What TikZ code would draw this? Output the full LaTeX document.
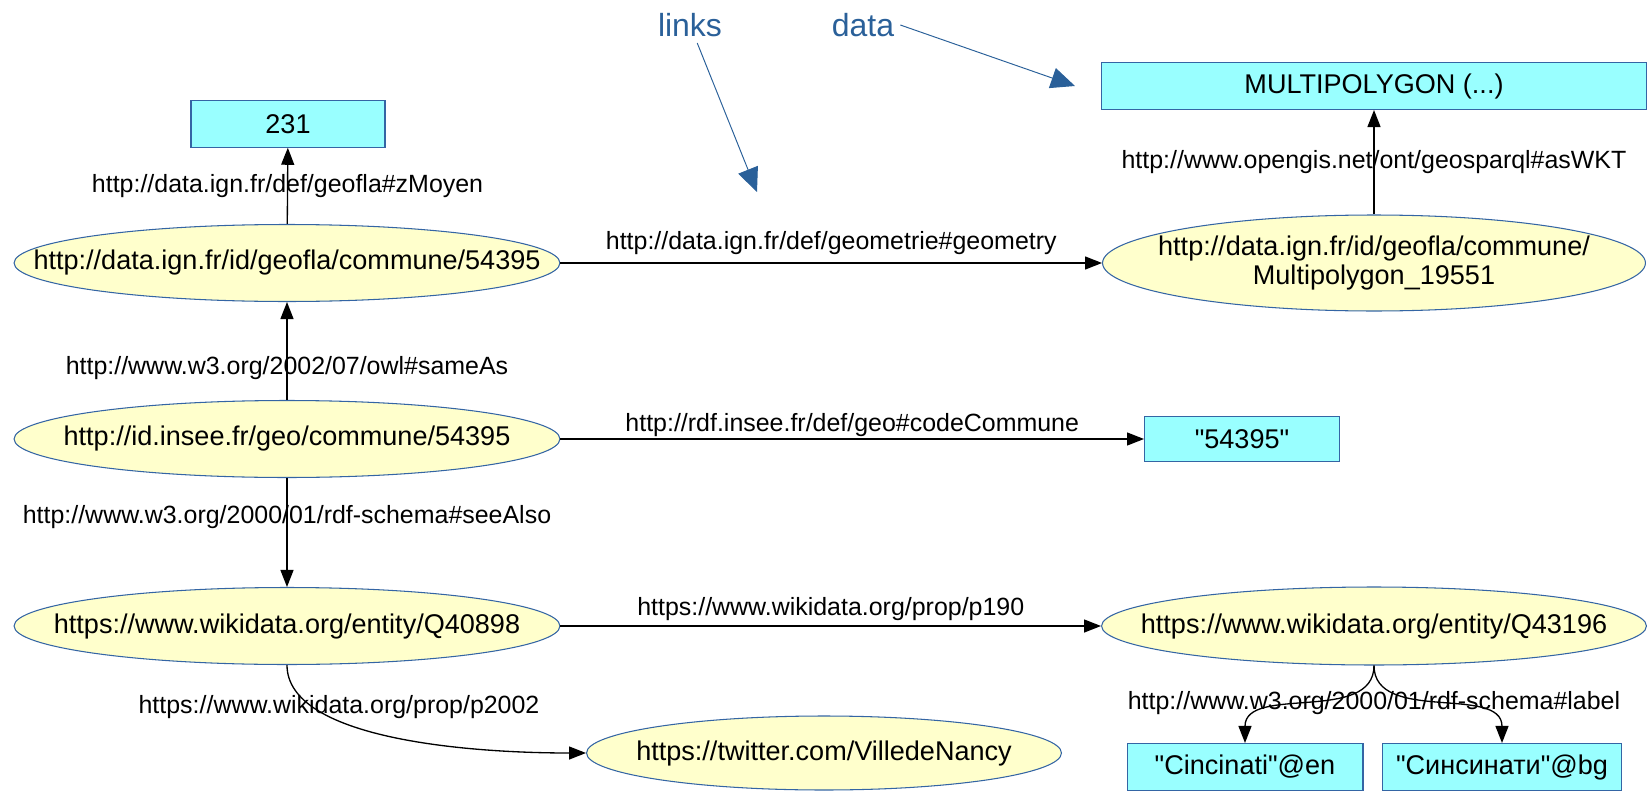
\documentclass[tikz,border=0pt]{standalone}
\usepackage{fontspec}
\setmainfont{Liberation Sans}[Ligatures=TeXOff]
\usetikzlibrary{arrows.meta,shapes.geometric}
\definecolor{boxcyan}{HTML}{99FFFF}
\definecolor{uriyellow}{HTML}{FFFFCC}
\definecolor{rimblue}{HTML}{3465A4}
\definecolor{noteblue}{HTML}{2A6099}

\begin{document}
\begin{tikzpicture}[x=0.02cm,y=-0.02cm,
  uri/.style={ellipse,draw=rimblue,fill=uriyellow,line width=0.6pt,inner xsep=-8cm,inner ysep=0pt,minimum width=10.92cm,minimum height=1.54cm,font=\fontsize{15.4}{17}\selectfont,align=center},
  lit/.style={rectangle,draw=rimblue,fill=boxcyan,line width=0.6pt,inner sep=0pt,minimum height=0.93cm,font=\fontsize{15.4}{17}\selectfont},
  prop/.style={-{Triangle[length=0.34cm,width=0.26cm]},line width=0.75pt},
  plbl/.style={font=\fontsize{14.2}{17}\selectfont,inner sep=0pt},
  note/.style={text=noteblue,font=\fontsize{18.2}{21}\selectfont},
  notearrow/.style={draw=noteblue,line width=0.55pt,-{Triangle[length=0.48cm,width=0.42cm]}}]
  \useasboundingbox (0,0) rectangle (1647,791);
  \node[lit,minimum width=3.88cm] (n231) at (288,124) {231};
  \node[lit,minimum width=10.9cm,minimum height=0.94cm] (multi) at (1374,86) {MULTIPOLYGON (...)};
  \node[lit,minimum width=3.9cm,minimum height=0.9cm] (code) at (1242,439) {"54395"};
  \node[lit,minimum width=4.72cm,minimum height=0.94cm] (en) at (1245,767) {"Cincinati"@en};
  \node[lit,minimum width=4.78cm,minimum height=0.94cm] (bg) at (1502,767) {"Синсинати"@bg};
  \node[uri] (e1) at (287,263) {http://data.ign.fr/id/geofla/commune/54395};
  \node[uri,minimum width=10.86cm,minimum height=1.92cm] (e2) at (1374,263) {http://data.ign.fr/id/geofla/commune/\\Multipolygon\_19551};
  \node[uri] (e3) at (287,439) {http://id.insee.fr/geo/commune/54395};
  \node[uri] (e4) at (287,626) {https://www.wikidata.org/entity/Q40898};
  \node[uri,minimum width=10.9cm,minimum height=1.56cm] (e5) at (1374,626) {https://www.wikidata.org/entity/Q43196};
  \node[uri,minimum width=9.5cm,minimum height=1.48cm] (e6) at (824,753) {https://twitter.com/VilledeNancy};
  \draw[prop] (e1) -- (n231) node[plbl,midway] (p-zmoyen) {http://data.ign.fr/def/geofla\#zMoyen};
  \draw[prop] (e1) -- (e2) node[plbl,midway,yshift=0.4cm] (p-geom) {http://data.ign.fr/def/geometrie\#geometry};
  \draw[prop] (e2) -- (multi) node[plbl,midway] (p-wkt) {http://www.opengis.net/ont/geosparql\#asWKT};
  \draw[prop] (e3) -- (e1) node[plbl,pos=0.33] (p-same) {http://www.w3.org/2002/07/owl\#sameAs};
  \draw[prop] (e3) -- (code) node[plbl,midway,yshift=0.28cm] (p-code) {http://rdf.insee.fr/def/geo\#codeCommune};
  \draw[prop] (e3) -- (e4) node[plbl,pos=0.36] (p-see) {http://www.w3.org/2000/01/rdf-schema\#seeAlso};
  \draw[prop] (e4) -- (e5) node[plbl,midway,yshift=0.34cm] (p-190) {https://www.wikidata.org/prop/p190};
  \draw[prop] (e4.south) to[out=-90,in=180,out looseness=0.6] (e6.west);
  \node[plbl] (p-2002) at (339,707) {https://www.wikidata.org/prop/p2002};
  \draw[prop] (e5.south) to[out=-90,in=90] (en.north);
  \draw[prop] (e5.south) to[out=-90,in=90] (bg.north);
  \node[plbl] (p-label) at (1374,703) {http://www.w3.org/2000/01/rdf-schema\#label};
  \node[note] (links) at (690,25) {links};
  \node[note] (data) at (863,25) {data};
  \coordinate (links-tip) at (757,192);
  \coordinate (data-tip) at (1075,86);
  \draw[notearrow] (links) -- (links-tip);
  \draw[notearrow] (data.east) -- (data-tip);
\end{tikzpicture}
\end{document}
